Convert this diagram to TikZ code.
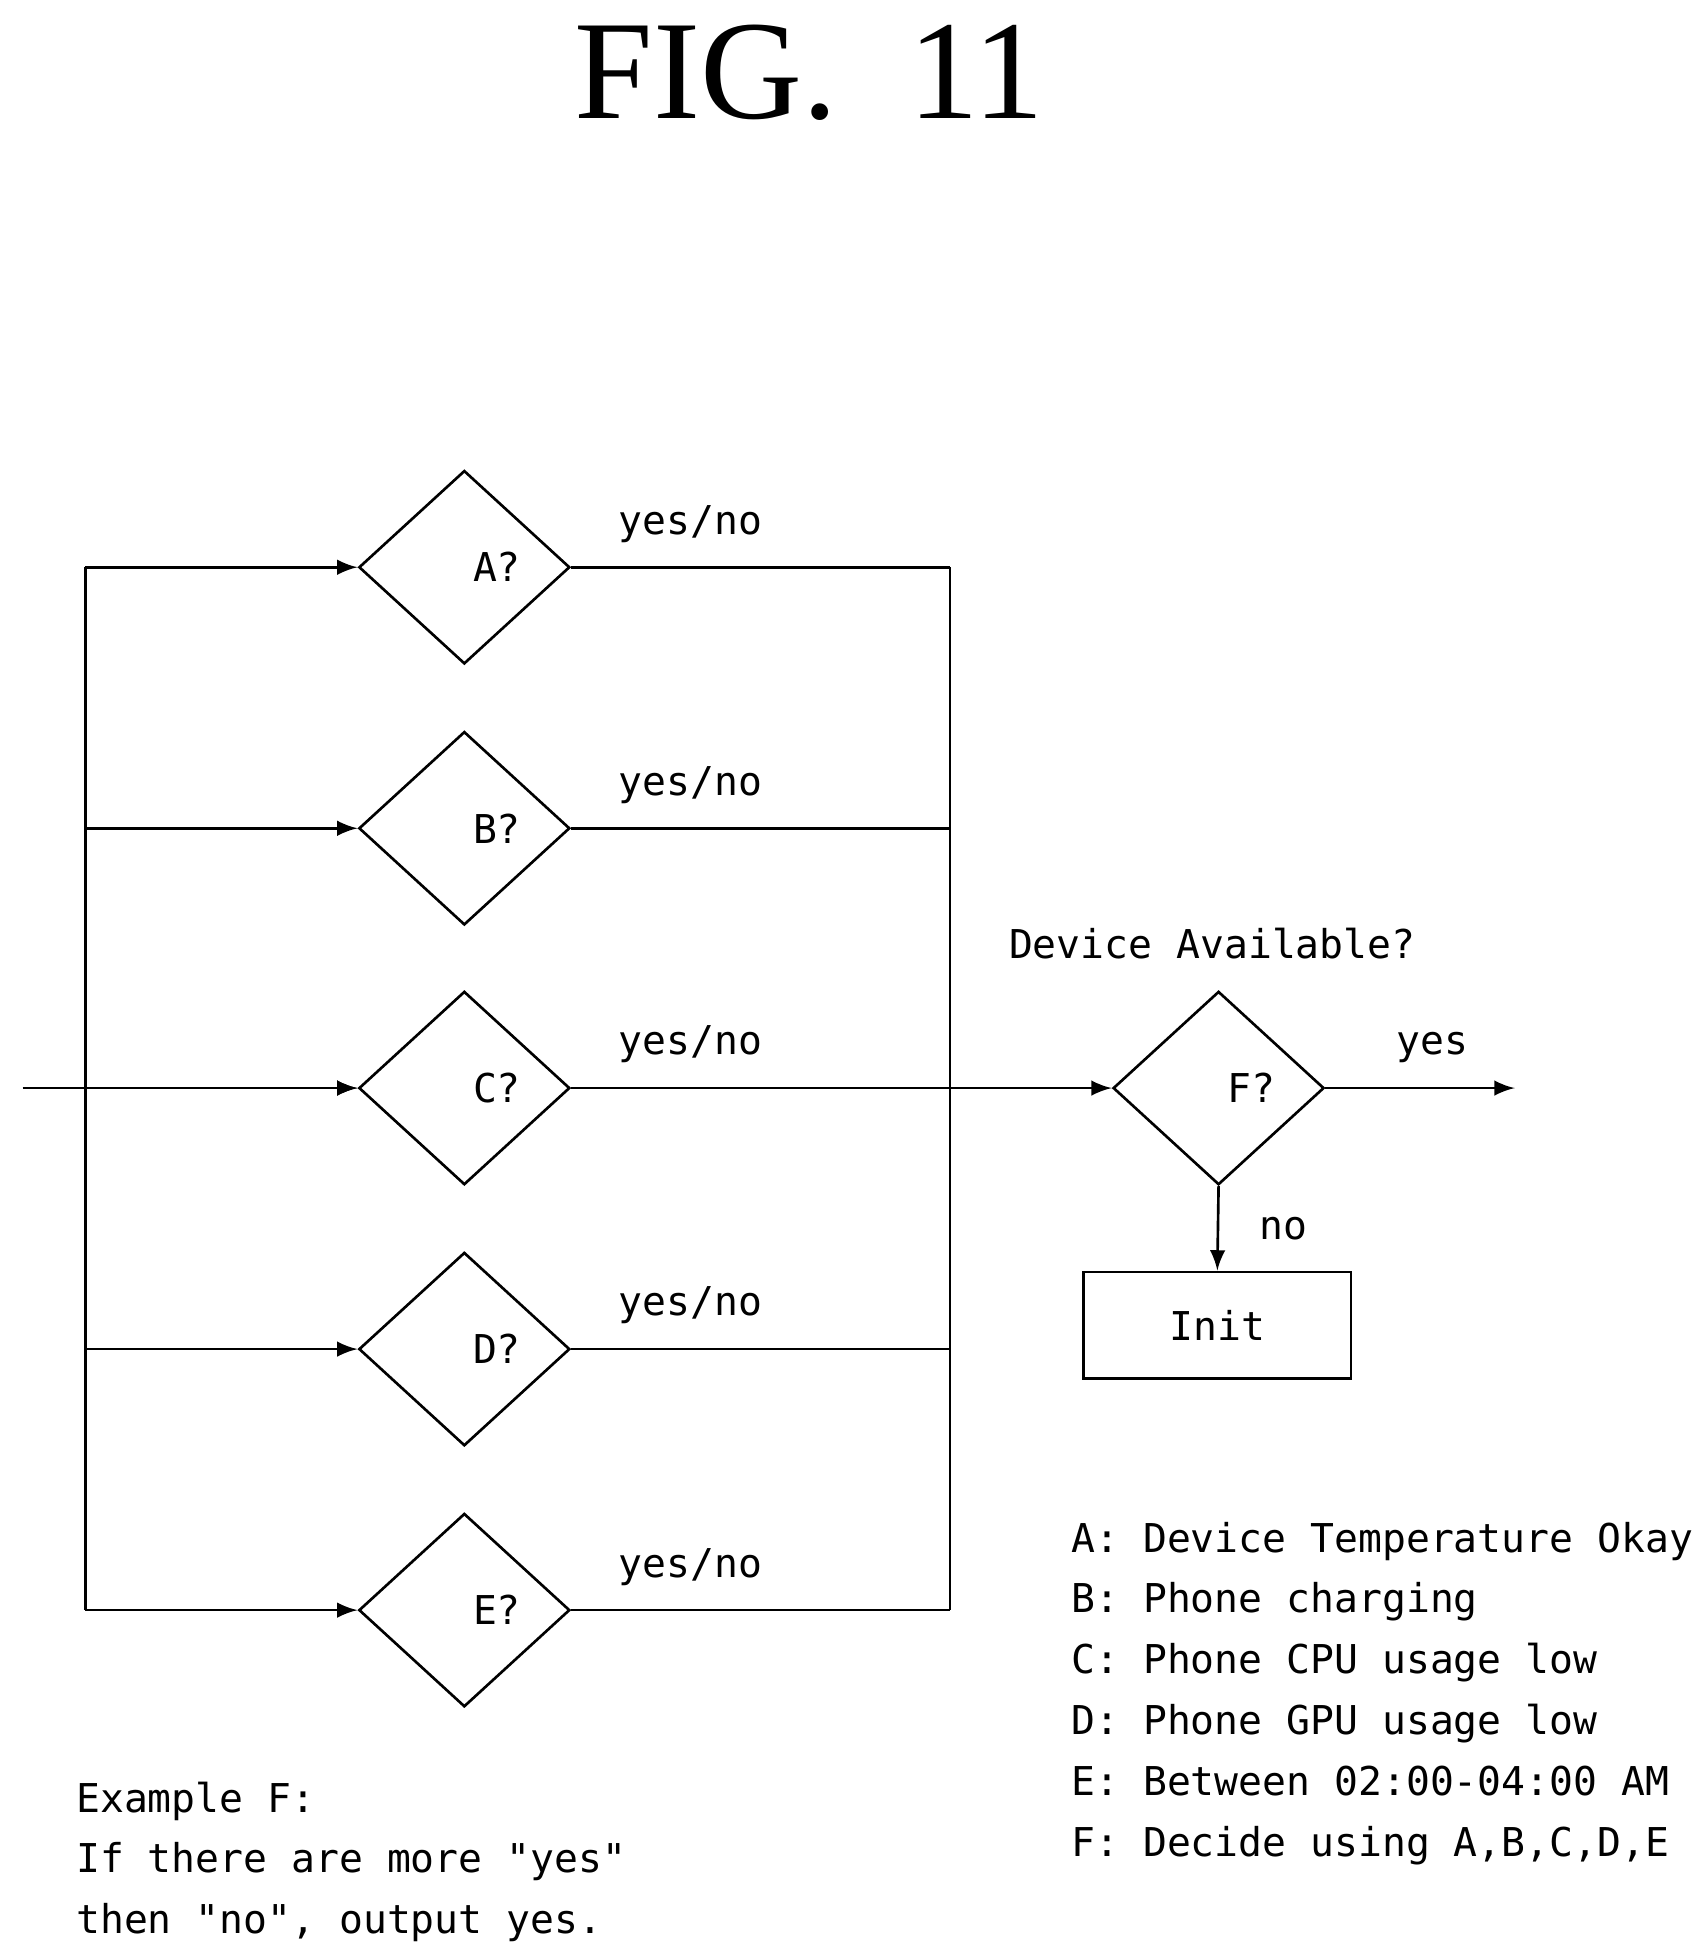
\documentclass[tikz,border=0pt]{standalone}
\usepackage{fontspec}
\setmainfont{Liberation Serif}
\setmonofont{DejaVu Sans Mono}
\usetikzlibrary{shapes.geometric}
\usetikzlibrary{positioning}

\begin{document}
\begin{tikzpicture}[x=0.01cm,y=-0.01cm,
    every node/.style={font=\ttfamily\fontsize{9}{11}\selectfont},
    cond/.style={diamond,draw,semithick,minimum width=1.68cm,minimum height=1.54cm,inner sep=0pt},
    arr/.style={semithick,-latex}]

    \useasboundingbox (0,0) rectangle (1360,1561);

    \node[font=\rmfamily\fontsize{32}{36}\selectfont] (title) at (645,58) {FIG.\ \ 11};

    \foreach \n/\y in {A/452,B/660,C/867,D/1075,E/1283} {
        \node[cond,label={[xshift=0.26cm]center:\n?}] (\n) at (370,\y) {};
        \coordinate (l\n) at (68,\y);
        \coordinate (r\n) at (757,\y);
        \draw[arr] (l\n) -- (\n.west);
        \draw[semithick] (\n.east) -- node[above=2pt,xshift=-0.56cm] {yes/no} (r\n);
    }
    \draw[semithick] (lA) -- (lE);
    \draw[semithick] (rA) -- (rE);
    \coordinate (in) at (18,867);
    \draw[arr] (in) -- (C.west);

    \node[cond,label={[xshift=0.26cm]center:F?}] (F) at (971,867) {};
    \node (avail) at (966,752) {Device Available?};
    \draw[arr] (rC) -- (F.west);
    \coordinate (out) at (1207,867);
    \draw[arr] (F.east) -- node[above=2pt,xshift=0.1cm] {yes} (out);

    \node[draw,semithick,minimum width=2.13cm,minimum height=0.85cm] (init) at (970,1056) {Init};
    \draw[arr] (F.south) -- node[right=0.2cm] {no} (init.north);

    \node[anchor=north west,align=left,inner sep=0pt] (legend) at (853,1212) {%
        A: Device Temperature Okay\\[2.8pt]
        B: Phone charging\\[2.8pt]
        C: Phone CPU usage low\\[2.8pt]
        D: Phone GPU usage low\\[2.8pt]
        E: Between 02:00-04:00 AM\\[2.8pt]
        F: Decide using A,B,C,D,E};

    \node[anchor=north west,align=left,inner sep=0pt] (example) at (60,1419) {%
        Example F:\\[2.8pt]
        If there are more "yes"\\[2.8pt]
        then "no", output yes.};
\end{tikzpicture}
\end{document}
